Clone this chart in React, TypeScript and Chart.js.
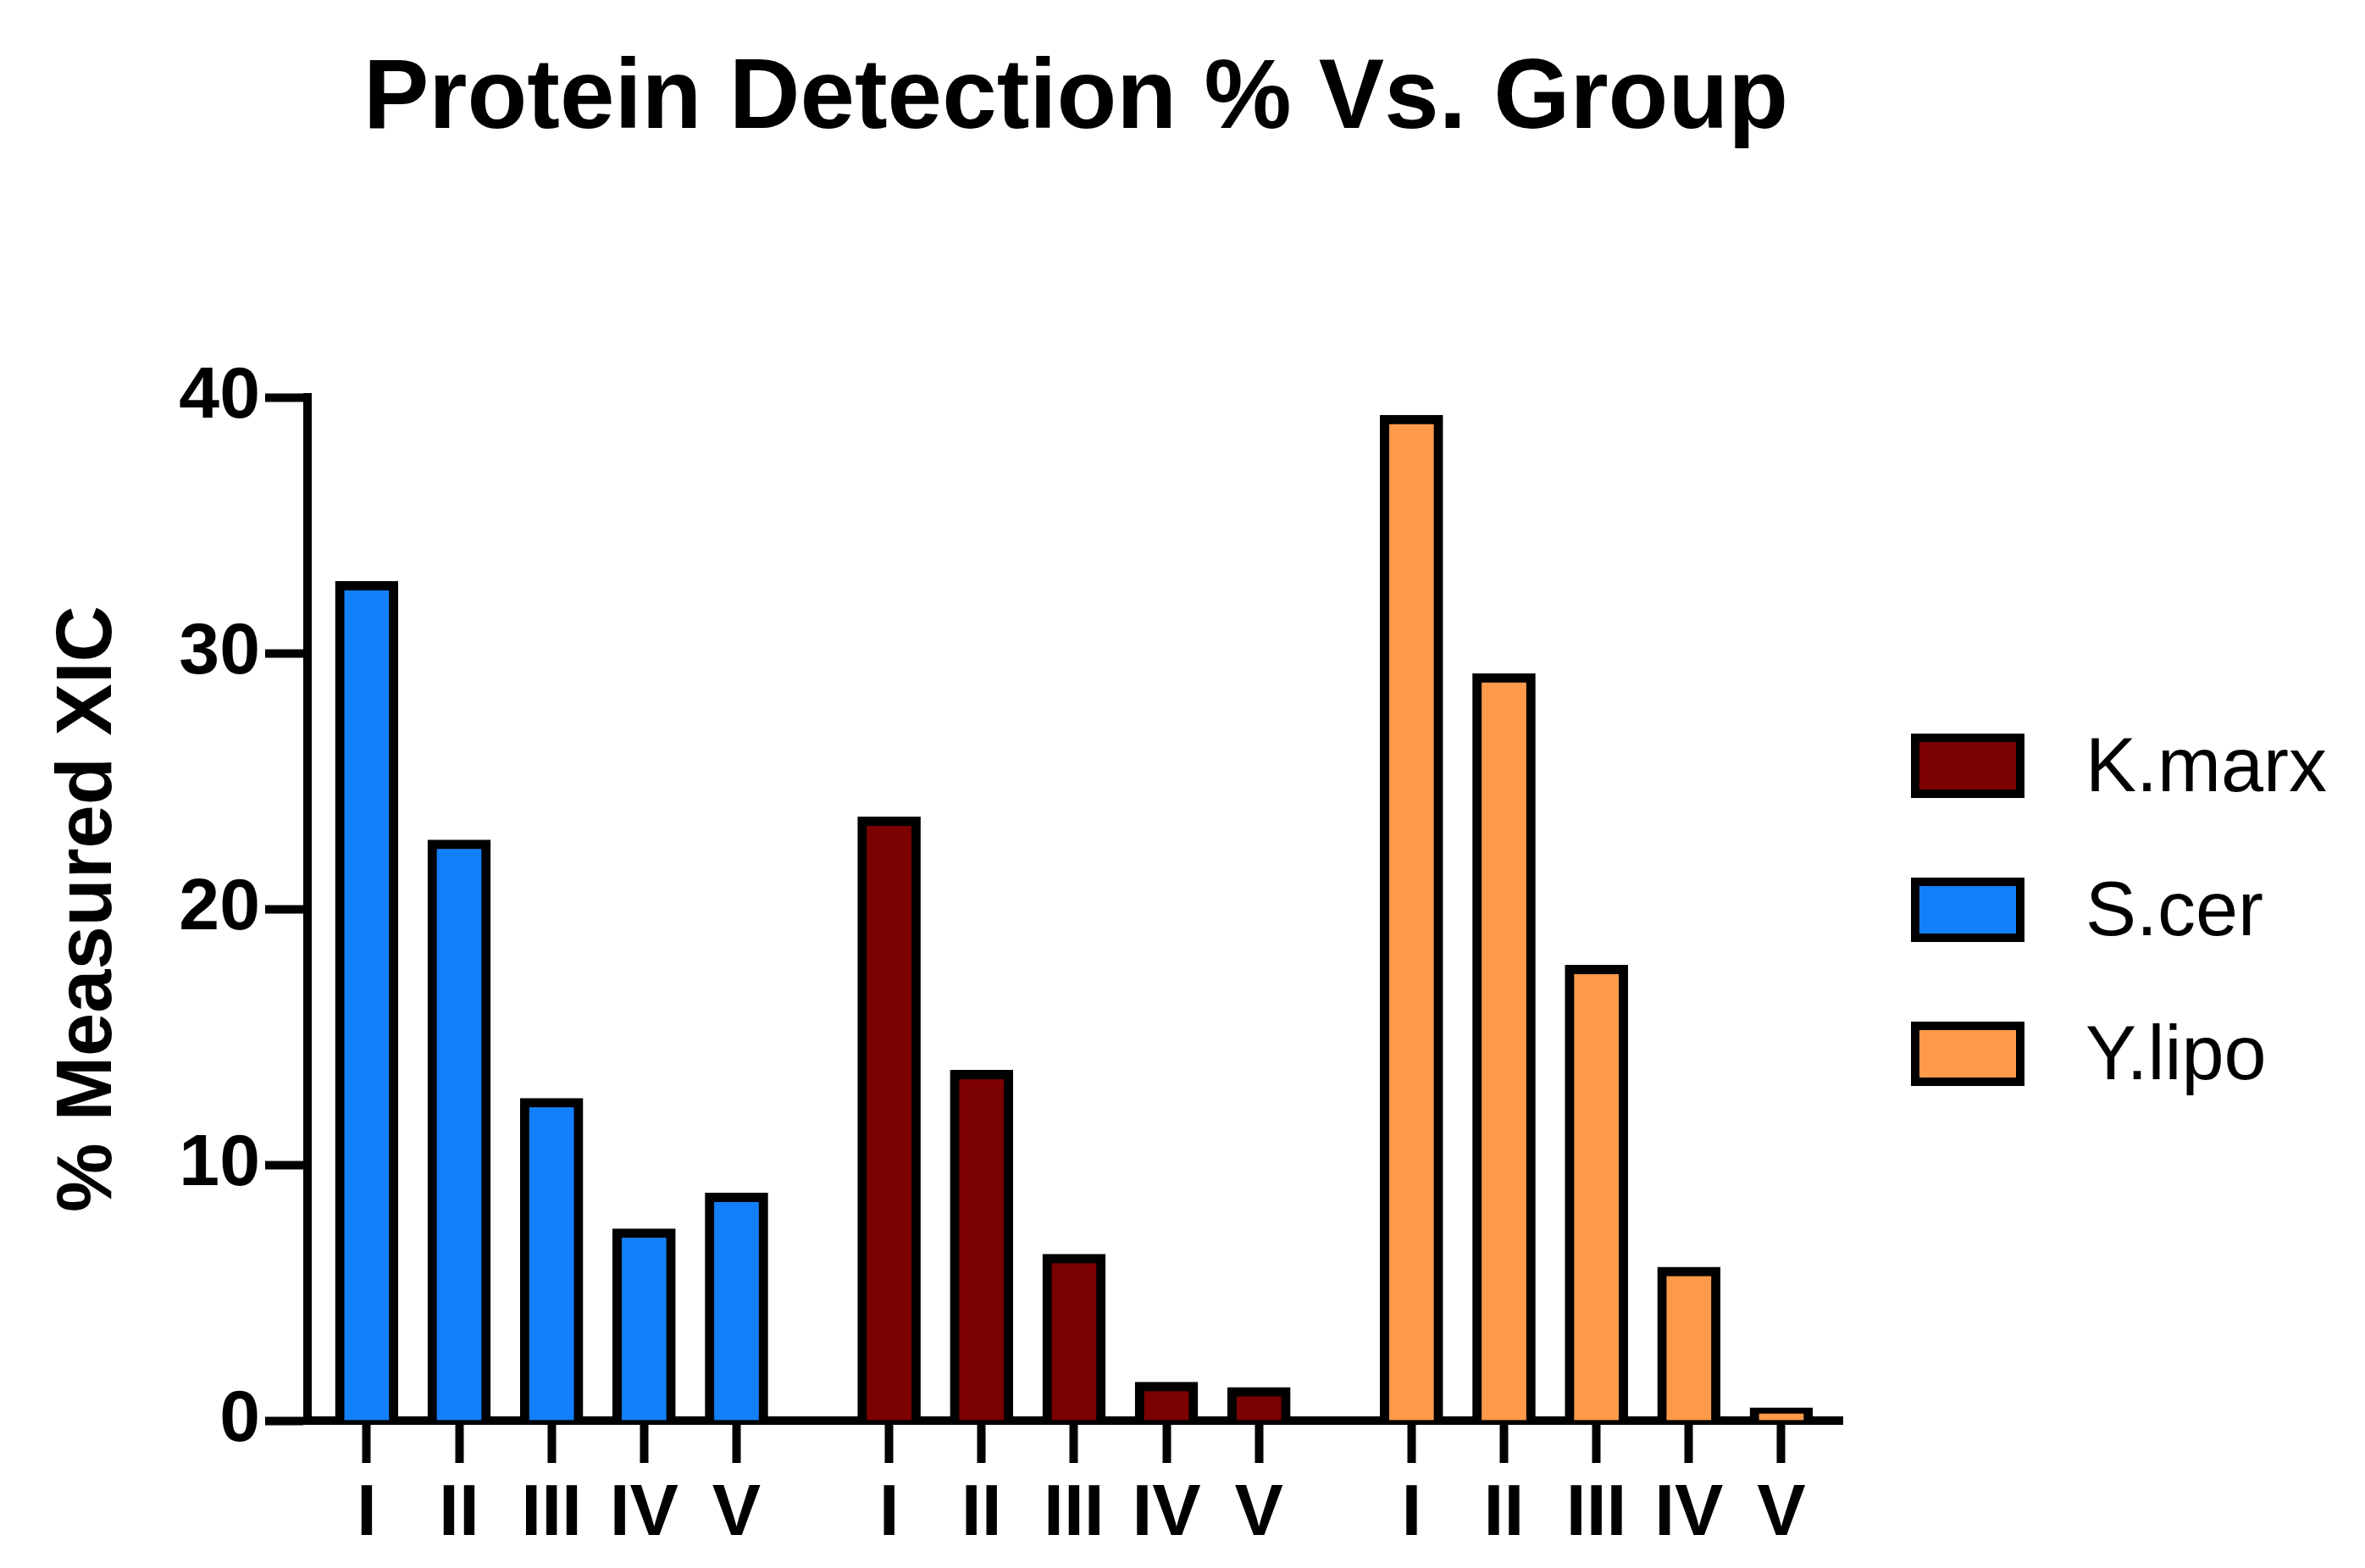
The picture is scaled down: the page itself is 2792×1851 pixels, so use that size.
import { useEffect, useRef } from "react"
import { Chart, registerables } from "chart.js"

Chart.register(...registerables)

const groupLabels = ["I", "II", "III", "IV", "V"]
const seriesNames = ["K.marx", "S.cer", "Y.lipo"]
const seriesColors = ["#7B0000", "#1380FB", "#FF9A4A"]
// group slot offsets along the x axis (S.cer first, then K.marx, then Y.lipo)
const groupStart = { "S.cer": 0, "K.marx": 5.65, "Y.lipo": 11.3 } as Record<string, number>
const kmarx = [23.6, 13.7, 6.5, 1.5, 1.3]
const scer = [32.8, 22.7, 12.6, 7.5, 8.9]
const ylipo = [39.3, 29.2, 17.8, 6.0, 0.5]
const yTicks = [0, 10, 20, 30, 40]

const seriesValues = [kmarx, scer, ylipo]
const FONT = "'Liberation Sans', Arial, Helvetica, sans-serif"

export default function App() {
  const chartRef = useRef<HTMLCanvasElement>(null)
  const chartInstance = useRef<Chart | null>(null)

  useEffect(() => {
    if (!chartRef.current) return
    if (chartInstance.current) chartInstance.current.destroy()
    const ctx = chartRef.current.getContext("2d")
    if (!ctx) return

    const tickPositions: number[] = []
    Object.values(groupStart).forEach((s) => groupLabels.forEach((_, i) => tickPositions.push(s + i)))
    tickPositions.sort((a, b) => a - b)
    const labelAt = (v: number) => {
      for (const s of Object.values(groupStart)) {
        const i = Math.round((v - s) * 100) / 100
        if (i >= 0 && i <= 4 && Number.isInteger(i)) return groupLabels[i]
      }
      return ""
    }

    chartInstance.current = new Chart(ctx, {
      type: "bar",
      data: {
        datasets: seriesNames.map((name, k) => ({
          label: name,
          data: seriesValues[k].map((v, i) => ({ x: groupStart[name] + i, y: v })),
          backgroundColor: seriesColors[k],
          borderColor: "#000",
          borderWidth: 11,
          borderSkipped: "bottom",
          barThickness: 74,
          grouped: false,
        })),
      },
      options: {
        animation: false,
        responsive: false,
        layout: { padding: { left: 50, top: 469, right: 2792 - 2175, bottom: 0 } },
        plugins: { legend: { display: false }, tooltip: { enabled: false } },
        scales: {
          x: {
            type: "linear",
            offset: false,
            min: -0.64,
            max: 15.96,
            afterFit: (s: any) => { s.height = 1851 - 1677 },
            afterBuildTicks: (s: any) => { s.ticks = tickPositions.map((v) => ({ value: v })) },
            grid: { offset: false, drawOnChartArea: false, tickLength: 50, tickWidth: 10, color: "#000" },
            border: { width: 10, color: "#000" },
            ticks: {
              autoSkip: false,
              maxRotation: 0,
              padding: 10,
              color: "#000",
              font: { family: FONT, size: 86, weight: "bold" },
              callback: (v: any) => labelAt(Number(v)),
            },
          },
          y: {
            min: 0,
            max: 40,
            afterFit: (s: any) => { s.width = 363 - 50 },
            afterBuildTicks: (s: any) => { s.ticks = yTicks.map((v) => ({ value: v })) },
            grid: { drawOnChartArea: false, tickLength: 50, tickWidth: 10, color: "#000" },
            border: { width: 10, color: "#000" },
            ticks: {
              padding: 6,
              color: "#000",
              font: { family: FONT, size: 86, weight: "bold" },
            },
            title: {
              display: true,
              text: "% Measured XIC",
              color: "#000",
              padding: 0,
              font: { family: FONT, size: 92, weight: "bold" },
            },
          },
        },
      },
    })

    return () => {
      if (chartInstance.current) chartInstance.current.destroy()
    }
  }, [])

  return (
    <div style={{ position: "absolute", left: 0, top: 0, width: 2792, height: 1851, background: "#fff", fontFamily: FONT }}>
      <canvas ref={chartRef} width={2792} height={1851} style={{ position: "absolute", left: 0, top: 0 }} />
      <div style={{ position: "absolute", left: 0, width: 2540, top: 44, textAlign: "center", fontSize: 116, fontWeight: "bold", color: "#000" }}>
        Protein Detection % Vs. Group
      </div>
      {seriesNames.map((name, k) => (
        <div key={name} style={{ position: "absolute", left: 2256, top: 852 + k * 170, display: "flex", alignItems: "center" }}>
          <div style={{ width: 114, height: 56, background: seriesColors[k], border: "10px solid #000" }} />
          <span style={{ marginLeft: 72, fontSize: 90, color: "#000" }}>{name}</span>
        </div>
      ))}
    </div>
  )
}
